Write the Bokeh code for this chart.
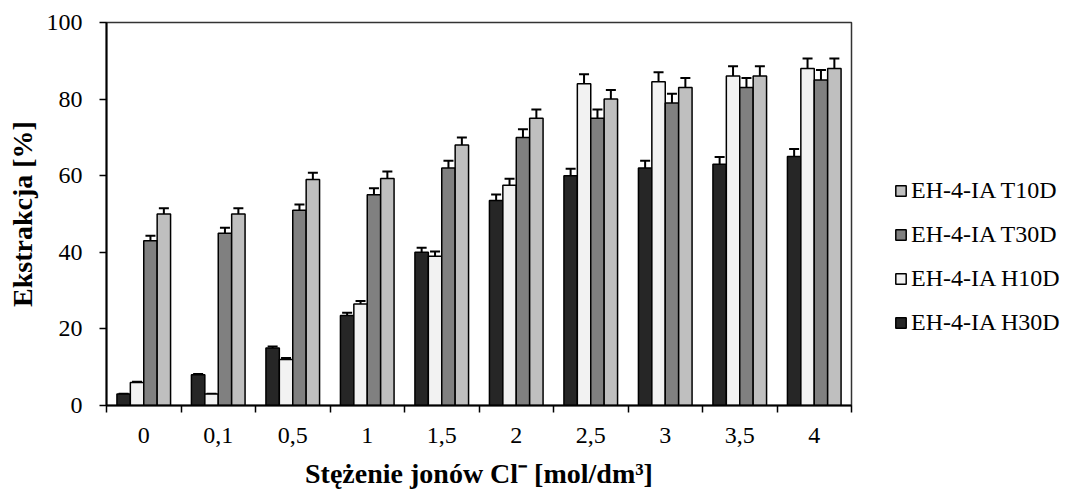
from bokeh.plotting import figure
from bokeh.models import (ColumnDataSource, FixedTicker, Whisker, TeeHead,
                          Legend, LegendItem, Range1d)
from bokeh.embed import file_html
from bokeh.resources import INLINE

categories = ["0", "0,1", "0,5", "1", "1,5", "2", "2,5", "3", "3,5", "4"]
series_names = ["EH-4-IA H30D", "EH-4-IA H10D", "EH-4-IA T30D", "EH-4-IA T10D"]
h30d = [3, 8, 15, 23.5, 40, 53.5, 60, 62, 63, 65]
h10d = [6, 3, 12, 26.5, 39, 57.5, 84, 84.5, 86, 88]
t30d = [43, 45, 51, 55, 62, 70, 75, 79, 83, 85]
t10d = [50, 50, 59, 59.3, 68, 75, 80, 83, 86, 88]
h30d_err = [0.1, 0.2, 0.4, 0.7, 1.2, 1.6, 1.8, 1.9, 1.9, 2.0]
h10d_err = [0.2, 0.1, 0.4, 0.8, 1.2, 1.7, 2.5, 2.5, 2.6, 2.6]
t30d_err = [1.3, 1.4, 1.5, 1.7, 1.9, 2.1, 2.3, 2.4, 2.5, 2.6]
t10d_err = [1.5, 1.5, 1.8, 1.8, 2.0, 2.3, 2.4, 2.5, 2.6, 2.6]
y_ticks = [0, 20, 40, 60, 80, 100]

series_values = [h30d, h10d, t30d, t10d]
series_errors = [h30d_err, h10d_err, t30d_err, t10d_err]
colors = ["#262626", "#f2f2f2", "#808080", "#bfbfbf"]
offsets = [-0.27, -0.09, 0.09, 0.27]
bar_w = 0.18
FONT = "Liberation Serif"

p = figure(output_backend="svg", toolbar_location=None,
           frame_width=745, frame_height=383,
           x_range=Range1d(0, len(categories)), y_range=Range1d(0, 100))
p.min_border_left = 106
p.min_border_top = 22
p.min_border_right = 200
p.min_border_bottom = 60
p.background_fill_color = "white"
p.border_fill_color = "white"
p.outline_line_color = "#333333"
p.outline_line_width = 1.5
p.grid.visible = False

renderers = []
for vals, errs, col, off in zip(series_values, series_errors, colors, offsets):
    xs = [i + 0.5 + off for i in range(len(categories))]
    src = ColumnDataSource(dict(x=xs, top=vals,
                                upper=[v + e for v, e in zip(vals, errs)],
                                lower=[v - e for v, e in zip(vals, errs)]))
    r = p.vbar(x="x", top="top", width=bar_w, bottom=0, source=src,
               fill_color=col, line_color="black", line_width=1.5)
    renderers.append(r)
    w = Whisker(source=src, base="x", upper="upper", lower="lower",
                line_color="black", line_width=2,
                upper_head=TeeHead(size=10, line_width=2, line_color="black"),
                lower_head=TeeHead(size=10, line_width=2, line_color="black"))
    p.add_layout(w)

# x axis
centers = [i + 0.5 for i in range(len(categories))]
p.xaxis.ticker = FixedTicker(ticks=centers,
                             minor_ticks=list(range(len(categories) + 1)))
p.xaxis.major_label_overrides = {c: lab for c, lab in zip(centers, categories)}
p.xaxis.major_tick_out = 0
p.xaxis.major_tick_in = 0
p.xaxis.minor_tick_out = 7
p.xaxis.minor_tick_in = 0
p.xaxis.minor_tick_line_color = "black"
p.xaxis.minor_tick_line_width = 1.5
p.xaxis.axis_label = "Stężenie jonów Cl⁻ [mol/dm³]"

# y axis
p.yaxis.ticker = FixedTicker(ticks=y_ticks)
p.yaxis.major_tick_out = 7
p.yaxis.major_tick_in = 0
p.yaxis.minor_tick_out = 0
p.yaxis.minor_tick_in = 0
p.yaxis.axis_label = "Ekstrakcja [%]"

for ax in (p.xaxis, p.yaxis):
    ax.axis_line_color = "black"
    ax.axis_line_width = 2
    ax.major_tick_line_color = "black"
    ax.major_tick_line_width = 1.5
    ax.major_label_text_font = FONT
    ax.major_label_text_font_size = "24px"
    ax.major_label_text_color = "black"
    ax.axis_label_text_font = FONT
    ax.axis_label_text_font_size = "28px"
    ax.axis_label_text_font_style = "bold"
    ax.axis_label_text_color = "black"

p.xaxis.major_label_standoff = 15
p.xaxis.axis_label_standoff = 12
p.yaxis.major_label_standoff = 17
p.yaxis.axis_label_standoff = 6

items = [LegendItem(label=series_names[k], renderers=[renderers[k]])
         for k in [3, 2, 1, 0]]
legend = Legend(items=items, location=(43, 69))
legend.label_text_font = FONT
legend.label_text_font_size = "24px"
legend.label_text_color = "black"
legend.glyph_width = 13
legend.glyph_height = 13
legend.label_standoff = 4
legend.spacing = 17
legend.padding = 0
legend.margin = 0
legend.border_line_color = None
legend.background_fill_alpha = 0
p.add_layout(legend, "right")

open("out.html", "w").write(file_html(p, INLINE))
